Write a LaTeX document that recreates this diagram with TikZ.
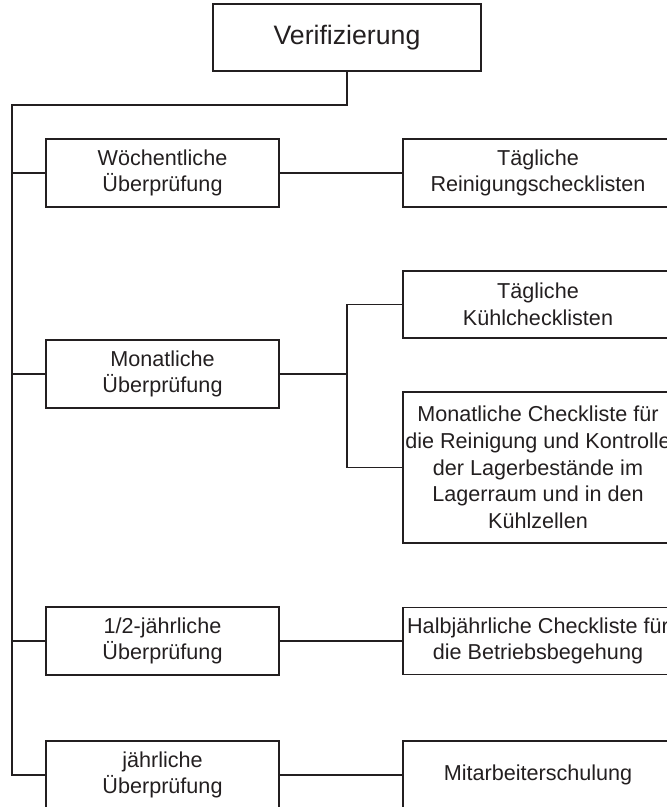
\documentclass[tikz,border=0pt]{standalone}
\usepackage{fontspec}
\setmainfont{Liberation Sans}
\definecolor{ink}{RGB}{35,31,32}
\begin{document}
\begin{tikzpicture}[x=0.75pt,y=-0.75pt,
  every node/.style={font=\fontsize{16.2}{20}\selectfont, text=ink},
  box/.style={draw=ink, line width=1.2pt, inner sep=0pt, align=center},
  leftbox/.style={box, minimum width=174.75pt, minimum height=51pt},
  rightbox/.style={box, minimum width=202.5pt, minimum height=50.25pt},
  link/.style={draw=ink, line width=1.2pt}]
  \path[use as bounding box] (0,0) rectangle (667,807);
  \clip (0,0) rectangle (667,807);

  % root
  \node[box, minimum width=201pt, minimum height=50.25pt,
        font=\fontsize{20}{24}\selectfont] (root) at (347,37.5) {Verifizierung};

  % review intervals
  \node[leftbox] (w1) at (162.5,173) {Wöchentliche\\Überprüfung};
  \node[leftbox] (w2) at (162.5,374) {Monatliche\\Überprüfung};
  \node[leftbox] (w3) at (162.5,641) {1/2-jährliche\\Überprüfung};
  \node[leftbox] (w4) at (162.5,775) {jährliche\\Überprüfung};

  % checklists
  \node[rightbox, minimum height=51pt] (r1) at (538,173) {Tägliche\\Reinigungschecklisten};
  \node[rightbox] (r2a) at (538,304.5) {Tägliche\\Kühlchecklisten};
  \node[rightbox, minimum height=113.25pt] (r2b) at (538,467.5)
     {Monatliche Checkliste für\\die Reinigung und Kontrolle\\der Lagerbestände im\\Lagerraum und in den\\Kühlzellen};
  \node[rightbox] (r3) at (538,641) {Halbjährliche Checkliste für\\die Betriebsbegehung};
  \node[rightbox, minimum height=51pt] (r4) at (538,775) {Mitarbeiterschulung};

  % trunk
  \coordinate (bend) at (347,105);
  \coordinate (trunkend) at (12,775);
  \coordinate (split) at (347,374);
  \draw[link] (root.south) -- (bend) -| (trunkend) -- (w4.west);
  \draw[link] (w1.west) -- (w1.west -| trunkend);
  \draw[link] (w2.west) -- (w2.west -| trunkend);
  \draw[link] (w3.west) -- (w3.west -| trunkend);

  % branches to checklists
  \draw[link] (w1.east) -- (r1.west);
  \draw[link] (w2.east) -- (split);
  \draw[link] (r2a.west) -| (split) |- (r2b.west);
  \draw[link] (w3.east) -- (r3.west);
  \draw[link] (w4.east) -- (r4.west);
\end{tikzpicture}
\end{document}
